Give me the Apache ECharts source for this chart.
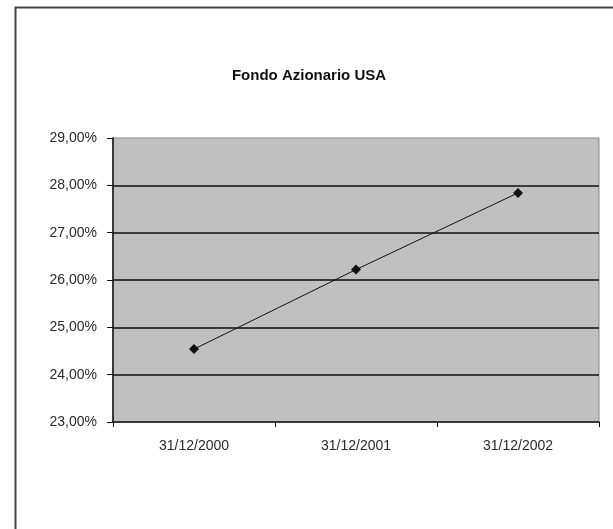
<!DOCTYPE html>
<html>
<head>
<meta charset="utf-8">
<script src="https://cdn.jsdelivr.net/npm/echarts@6/dist/echarts.min.js"></script>
<style>html,body{margin:0;padding:0;background:#fff;}#c{width:613px;height:529px;}</style>
</head>
<body>
<div id="c"></div>
<script>
const title = 'Fondo Azionario USA';
const categories = ['31/12/2000', '31/12/2001', '31/12/2002'];
const values = [24.54, 26.22, 27.84];
const yMin = 23, yMax = 29, yStep = 1;

const chart = echarts.init(document.getElementById('c'), null, {renderer: 'canvas'});
const font = '"Liberation Sans", Arial, sans-serif';
chart.setOption({
  backgroundColor: '#ffffff',
  animation: false,
  title: {
    text: title, left: 304, top: 63, textAlign: 'center',
    textStyle: {fontFamily: font, fontSize: 15, fontWeight: 'bold', color: '#111'}
  },
  graphic: [{
    type: 'rect', left: 13, top: 5, z: 100, silent: true,
    shape: {width: 640, height: 560},
    style: {fill: 'none', stroke: '#444', lineWidth: 2}
  }],
  grid: {
    left: 113, right: 14, top: 138, bottom: 107,
    show: true, backgroundColor: '#c0c0c0', borderColor: '#8a8a8a', borderWidth: 1
  },
  xAxis: {
    type: 'category', data: categories, boundaryGap: true,
    axisLine: {show: true, lineStyle: {color: '#111', width: 1.5}},
    axisTick: {show: true, length: 5, lineStyle: {color: '#111'}},
    axisLabel: {fontFamily: font, fontSize: 14, color: '#2a2a2a', margin: 17},
    splitLine: {show: false}
  },
  yAxis: {
    type: 'value', min: yMin, max: yMax, interval: yStep,
    axisLine: {show: true, lineStyle: {color: '#111', width: 1.5}},
    axisTick: {show: true, length: 6, lineStyle: {color: '#111'}},
    axisLabel: {
      fontFamily: font, fontSize: 14, color: '#2a2a2a', margin: 16,
      formatter: v => v.toFixed(2).replace('.', ',') + '%'
    },
    splitLine: {show: true, showMaxLine: false, showMinLine: false, lineStyle: {color: '#111', width: 1.5}}
  },
  series: [{
    type: 'line', data: values,
    symbol: 'diamond', symbolSize: 10,
    itemStyle: {color: '#111'},
    lineStyle: {color: '#111', width: 1}
  }]
});
</script>
</body>
</html>
